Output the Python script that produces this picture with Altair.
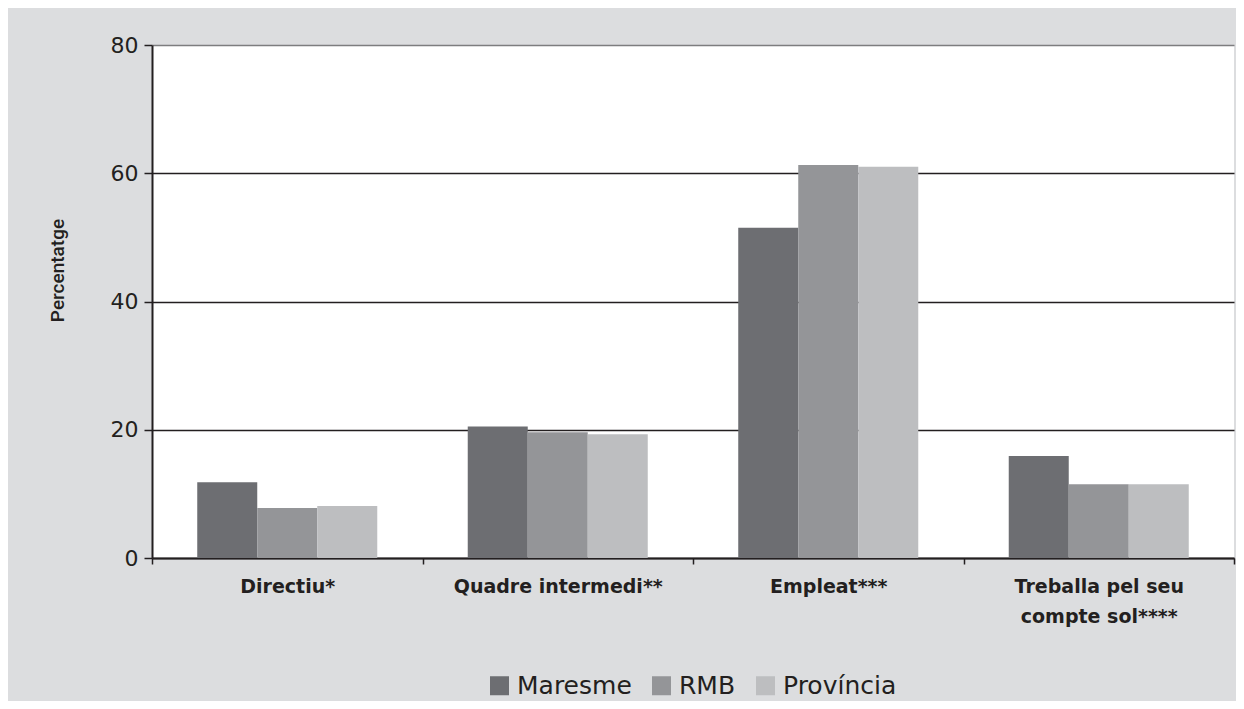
import altair as alt
import pandas as pd

categories = ["Directiu*", "Quadre intermedi**", "Empleat***", "Treballa pel seu compte sol****"]
series = ["Maresme", "RMB", "Província"]
maresme = [11.8, 20.5, 51.5, 15.9]
rmb = [7.8, 19.6, 61.3, 11.5]
provincia = [8.1, 19.3, 61.0, 11.5]
colors = ["#6d6e72", "#949598", "#bdbec0"]
y_ticks = [0, 20, 40, 60, 80]

rows = []
for s, vals in zip(series, [maresme, rmb, provincia]):
    for c, v in zip(categories, vals):
        rows.append({"category": c, "series": s, "value": v})
df = pd.DataFrame(rows)

label_expr = ("datum.label == 'Treballa pel seu compte sol****' ? "
              "['Treballa pel seu', 'compte sol****'] : datum.label")

chart = alt.Chart(df).mark_bar().encode(
    x=alt.X("category:N", sort=categories, title=None,
            scale=alt.Scale(paddingInner=0, paddingOuter=0),
            axis=alt.Axis(tickBand="extent", labelAngle=0, labelExpr=label_expr,
                          domainColor="#231f20", domainWidth=2,
                          tickColor="#231f20", tickWidth=1.5, tickSize=6,
                          labelFont="DejaVu Sans", labelFontSize=19,
                          labelFontWeight="bold", labelColor="#231f20",
                          labelLimit=300,
                          labelPadding=13, labelLineHeight=30, grid=False)),
    xOffset=alt.XOffset("series:N", sort=series,
                        scale=alt.Scale(paddingInner=0, paddingOuter=0.754)),
    y=alt.Y("value:Q", scale=alt.Scale(domain=[0, 80]),
            axis=alt.Axis(values=y_ticks, title="Percentatge",
                          grid=True,
                          gridColor={"condition": {"test": "datum.value == 80", "value": "#7d7d7f"},
                                     "value": "#231f20"},
                          gridWidth=1.5,
                          domainColor="#231f20", domainWidth=2,
                          tickColor="#231f20", tickWidth=1.5, tickSize=8,
                          labelFont="DejaVu Sans", labelFontSize=22, labelColor="#231f20",
                          labelPadding=6,
                          titleFont="Roboto", titleFontSize=19, titleFontWeight=500,
                          titleColor="#231f20", titleX=-95, titleY=225,
                          titleBaseline="middle", titleAlign="center")),
    color=alt.Color("series:N", sort=series,
                    scale=alt.Scale(domain=series, range=colors),
                    legend=alt.Legend(title=None, orient="none", direction="horizontal",
                                      legendX=335, legendY=628,
                                      symbolType="square", symbolSize=361,
                                      symbolStrokeWidth=0, symbolOpacity=1,
                                      labelFont="DejaVu Sans", labelFontSize=25,
                                      labelColor="#231f20", labelOffset=5,
                                      columnPadding=17)),
).properties(
    width=1082, height=513,
    padding={"left": 144, "top": 37, "right": 2, "bottom": 143},
    autosize=alt.AutoSizeParams(type="none"),
    background="#dcdddf",
).configure_view(fill="white", stroke=None)

chart.save("out.html", embed_options={"renderer": "svg", "actions": False})
